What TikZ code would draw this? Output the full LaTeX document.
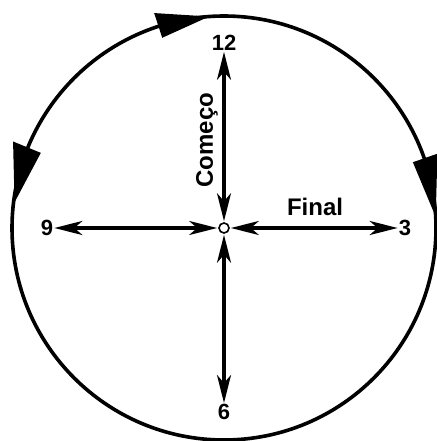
\documentclass[tikz,border=0pt]{standalone}
\usepackage{fontspec}
\setmainfont{Liberation Sans}
\usepackage{tikz}
\usetikzlibrary{arrows.meta,positioning,calc}

\begin{document}
\begin{tikzpicture}[
    x=1pt,
    y=1pt,
    >={Stealth[length=28pt,width=14pt,inset=8pt]},
    eixo/.style={<->, line width=3.2pt, shorten <=1pt},
    hora/.style={font=\bfseries\fontsize{22}{22}\selectfont, inner sep=1pt},
    etiqueta/.style={font=\bfseries\fontsize{24}{24}\selectfont, inner sep=0pt}
]

    % Marges
    \useasboundingbox (0,0) rectangle (436,-441);

    % Cercle
    \coordinate (ctr) at (224,-228);
    \draw[
        line width=3.6pt
    ] (ctr) circle (212pt);

    % Puntes de fletxa del cercle
    \fill ($(ctr)+(108:200)$) -- ($(ctr)+(108:226)$) -- ($(ctr)+(94:212)$) -- cycle;
    \fill ($(ctr)+(157.7:198)$) -- ($(ctr)+(157.7:228)$) -- ($(ctr)+(173:211)$) -- cycle;
    \fill ($(ctr)+(19.2:200)$) -- ($(ctr)+(19.2:226)$) -- ($(ctr)+(3:212)$) -- cycle;

    % Centre
    \node[
        circle,
        draw,
        line width=1.6pt,
        fill=white,
        minimum size=10pt,
        inner sep=0pt
    ] (c) at (ctr) {};

    % Hores
    \node[hora] (n12) at (224,-43) {12};
    \node[hora] (n6) at (224,-412) {6};
    \node[hora] (n9) at (47,-228) {9};
    \node[hora] (n3) at (405,-228) {3};

    % Eixos
    \draw[eixo] (c) -- (n12);
    \draw[eixo] (c) -- (n6);
    \draw[eixo] (c) -- (n9);
    \draw[eixo] (c) -- (n3);

    % Etiquetes
    \node[etiqueta, rotate=90] (comeco) at (207,-140) {Começo};
    \node[etiqueta] (final) at (315,-207) {Final};

\end{tikzpicture}
\end{document}
